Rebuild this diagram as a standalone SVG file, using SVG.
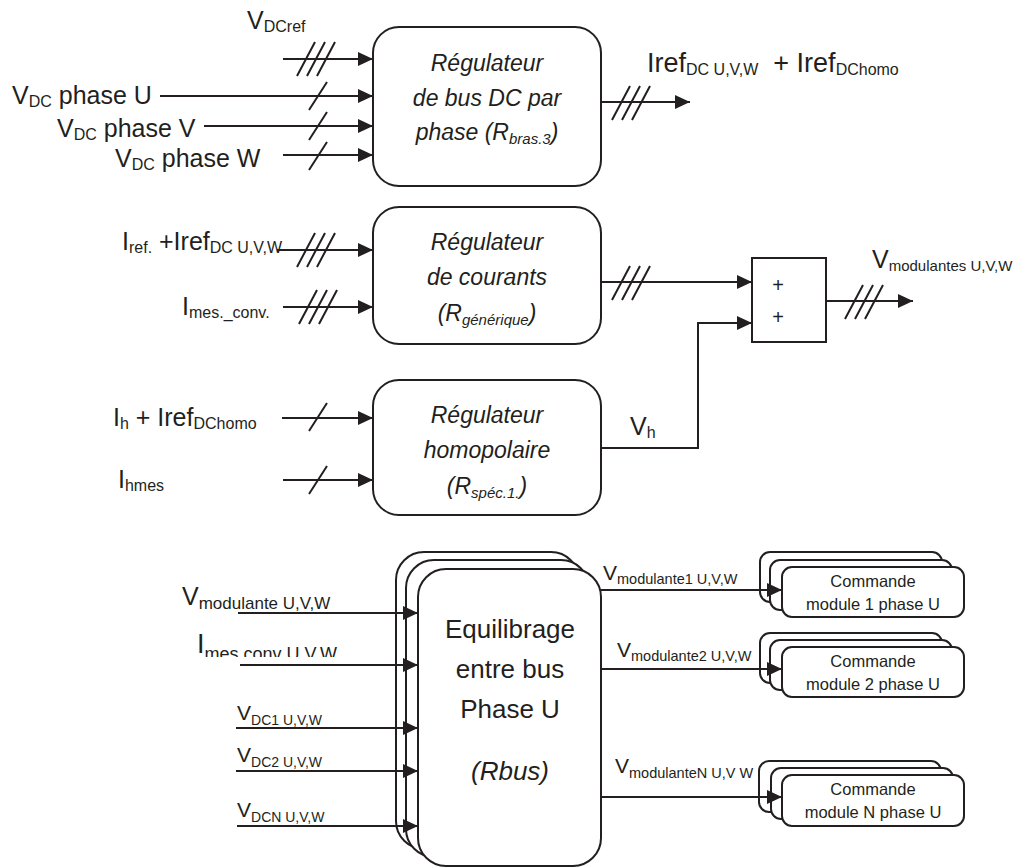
<svg xmlns="http://www.w3.org/2000/svg" width="1032" height="868" viewBox="0 0 1032 868">
<style>
text{font-family:"Liberation Sans",Arial,sans-serif;fill:#231f20;white-space:pre}
.box{fill:#fff;stroke:#231f20;stroke-width:2}
.ln{fill:none;stroke:#231f20;stroke-width:2}
.ar{marker-end:url(#ah)}
.lb{font-size:25px}
.s{font-size:16px}
.bt{font-size:23px;font-style:italic;text-anchor:middle}
.bs{font-size:15px}
.cm{font-size:16.5px;text-anchor:middle}
.eq{font-size:26px;text-anchor:middle}
.pl{font-size:20px;text-anchor:middle}
</style>
<defs>
<marker id="ah" markerUnits="userSpaceOnUse" markerWidth="16" markerHeight="14" refX="15" refY="7" orient="auto">
<path d="M0,0 L15,7 L0,14 z" fill="#231f20"/>
</marker>
<path id="tri" d="M-19,17 L-1,-17 M-9,17 L9,-17 M1,17 L19,-17" fill="none" stroke="#231f20" stroke-width="2"/>
<path id="one" d="M-9,14 L9,-14" fill="none" stroke="#231f20" stroke-width="2"/>
<clipPath id="cut"><rect x="100" y="600" width="320" height="57"/></clipPath>
</defs>

<g id="connectors">
<path class="ln ar" d="M283,59 H373"/>
<path class="ln ar" d="M160,96 H373"/>
<path class="ln ar" d="M204,126 H373"/>
<path class="ln ar" d="M283,155 H373"/>
<path class="ln ar" d="M601,102 H690"/>
<path class="ln ar" d="M277,250 H373"/>
<path class="ln ar" d="M283,307 H373"/>
<path class="ln ar" d="M282,418 H373"/>
<path class="ln ar" d="M283,480 H373"/>
<path class="ln ar" d="M601,282 H752"/>
<path class="ln ar" d="M601,448 H698 V323 H752"/>
<path class="ln ar" d="M826,301 H913"/>
<use href="#tri" x="316" y="59"/>
<use href="#one" x="318" y="96"/>
<use href="#one" x="318" y="126"/>
<use href="#one" x="318" y="156"/>
<use href="#tri" x="631" y="103"/>
<use href="#tri" x="316" y="250"/>
<use href="#tri" x="318" y="307"/>
<use href="#tri" x="631" y="283"/>
<use href="#one" x="318" y="417"/>
<use href="#one" x="318" y="480"/>
<use href="#tri" x="864" y="302"/>
</g>

<g id="reg-bus">
<rect class="box" x="373" y="27" width="228" height="159" rx="26"/>
<text class="bt" x="487" y="71">Régulateur</text>
<text class="bt" x="487" y="106">de bus DC par</text>
<text class="bt" x="487" y="140">phase (R<tspan class="bs" dy="4">bras.3</tspan><tspan dy="-4">)</tspan></text>
</g>

<g id="reg-courants">
<rect class="box" x="373" y="207" width="228" height="137" rx="26"/>
<text class="bt" x="487" y="250">Régulateur</text>
<text class="bt" x="487" y="285">de courants</text>
<text class="bt" x="487" y="321">(R<tspan class="bs" dy="4">générique</tspan><tspan dy="-4">)</tspan></text>
</g>

<g id="reg-homo">
<rect class="box" x="373" y="380" width="228" height="135" rx="26"/>
<text class="bt" x="487" y="423">Régulateur</text>
<text class="bt" x="487" y="458">homopolaire</text>
<text class="bt" x="487" y="494">(R<tspan class="bs" dy="4">spéc.1.</tspan><tspan dy="-4">)</tspan></text>
</g>

<g id="sum">
<rect class="box" x="752" y="258" width="74" height="84" rx="0"/>
<text class="pl" x="778" y="292">+</text>
<text class="pl" x="778" y="324">+</text>
</g>

<g id="labels-top">
<text class="lb" x="247" y="29">V<tspan class="s" dy="3">DCref</tspan></text>
<text class="lb" x="12" y="104">V<tspan class="s" dy="3">DC</tspan><tspan dy="-3"> phase U</tspan></text>
<text class="lb" x="57" y="137">V<tspan class="s" dy="3">DC</tspan><tspan dy="-3"> phase V</tspan></text>
<text class="lb" x="115" y="167">V<tspan class="s" dy="3">DC</tspan><tspan dy="-3"> phase W</tspan></text>
<text class="lb" x="647" y="72" style="font-size:27px">Iref<tspan class="s" dy="3">DC U,V,W</tspan><tspan dy="-3">  + Iref</tspan><tspan class="s" dy="3">DChomo</tspan></text>
<text class="lb" x="122" y="250">I<tspan class="s" dy="3">ref.</tspan><tspan dy="-3"> +Iref</tspan><tspan class="s" dy="3">DC U,V,W</tspan></text>
<text class="lb" x="182" y="315">I<tspan class="s" dy="3">mes._conv.</tspan></text>
<text class="lb" x="113" y="426">I<tspan class="s" dy="3">h</tspan><tspan dy="-3"> + Iref</tspan><tspan class="s" dy="3">DChomo</tspan></text>
<text class="lb" x="118" y="488">I<tspan class="s" dy="3">hmes</tspan></text>
<text class="lb" x="630" y="435">V<tspan class="s" dy="3">h</tspan></text>
<text class="lb" x="872" y="268">V<tspan class="s" dy="3" style="font-size:15px">modulantes U,V,W</tspan></text>
</g>

<g id="equilibrage">
<rect class="box" x="396" y="552" width="183" height="297" rx="28"/>
<rect class="box" x="406" y="560" width="183" height="297" rx="28"/>
<rect class="box" x="418" y="569" width="183" height="297" rx="28"/>
<text class="eq" x="510" y="638">Equilibrage</text>
<text class="eq" x="510" y="678">entre bus</text>
<text class="eq" x="510" y="718">Phase U</text>
<text class="eq" x="510" y="780" font-style="italic">(Rbus)</text>
</g>

<g id="cmd1">
<rect class="box" x="760" y="552" width="182" height="50" rx="10"/>
<rect class="box" x="770" y="560" width="182" height="50" rx="10"/>
<rect class="box" x="782" y="567" width="182" height="50" rx="10"/>
<text class="cm" x="873" y="587">Commande</text>
<text class="cm" x="873" y="610">module 1 phase U</text>
</g>

<g id="cmd2">
<rect class="box" x="760" y="633" width="182" height="50" rx="10"/>
<rect class="box" x="770" y="640" width="182" height="50" rx="10"/>
<rect class="box" x="782" y="647" width="182" height="50" rx="10"/>
<text class="cm" x="873" y="667">Commande</text>
<text class="cm" x="873" y="690">module 2 phase U</text>
</g>

<g id="cmdN">
<rect class="box" x="759" y="761" width="182" height="51" rx="10"/>
<rect class="box" x="771" y="768" width="182" height="51" rx="10"/>
<rect class="box" x="782" y="775" width="182" height="51" rx="10"/>
<text class="cm" x="873" y="795">Commande</text>
<text class="cm" x="873" y="818">module N phase U</text>
</g>

<g id="connectors-bottom">
<path class="ln ar" d="M238,613 H418"/>
<path class="ln ar" d="M240,665 H418"/>
<path class="ln ar" d="M236,728 H418"/>
<path class="ln ar" d="M236,771 H418"/>
<path class="ln ar" d="M237,826 H418"/>
<path class="ln ar" d="M601,590 H782"/>
<path class="ln ar" d="M601,669 H782"/>
<path class="ln ar" d="M601,797 H782"/>
</g>

<g id="labels-bottom">
<text class="lb" x="182" y="605">V<tspan dy="4" style="font-size:17px">modulante U,V,W</tspan></text>
<text class="lb" x="197" y="653" clip-path="url(#cut)" style="font-size:27px">I<tspan dy="7" style="font-size:18px">mes.conv U.V.W</tspan></text>
<text x="237" y="720" style="font-size:21px">V<tspan dy="5" style="font-size:14px">DC1 U,V,W</tspan></text>
<text x="237" y="762" style="font-size:21px">V<tspan dy="5" style="font-size:14px">DC2 U,V,W</tspan></text>
<text x="237" y="817" style="font-size:21px">V<tspan dy="5" style="font-size:14px">DCN U,V,W</tspan></text>
<text x="603" y="580" style="font-size:21px">V<tspan dy="4" style="font-size:14.5px">modulante1 U,V,W</tspan></text>
<text x="617" y="657" style="font-size:21px">V<tspan dy="4" style="font-size:14.5px">modulante2 U,V,W</tspan></text>
<text x="615" y="773" style="font-size:21px">V<tspan dy="5" style="font-size:14.5px">modulanteN U,V W</tspan></text>
</g>
</svg>
